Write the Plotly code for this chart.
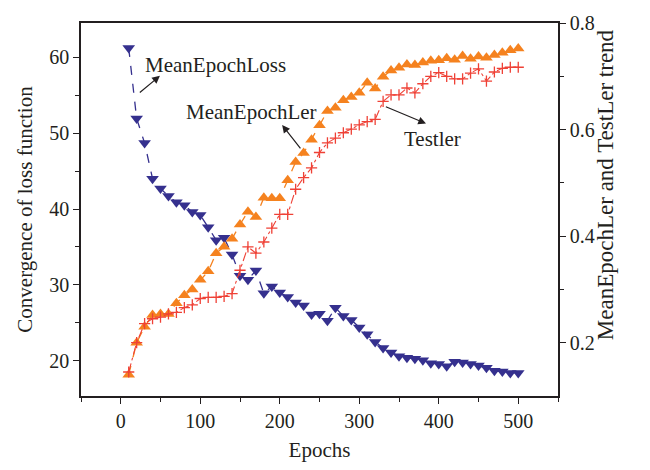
import plotly.graph_objects as go

epochs = list(range(10, 510, 10))

mean_epoch_loss = [61.2, 51.9, 48.7, 44.0, 42.7, 41.7, 40.9, 40.5, 39.6, 39.2,
                   37.6, 35.9, 36.2, 34.0, 31.2, 30.7, 31.9, 28.9, 29.8, 29.0,
                   28.4, 27.7, 27.3, 26.1, 26.2, 25.3, 27.0, 25.9, 25.4, 24.4,
                   23.5, 22.5, 21.7, 21.1, 20.6, 20.4, 20.3, 20.1, 19.7, 19.6,
                   19.3, 19.9, 19.8, 19.6, 19.4, 19.1, 18.7, 18.6, 18.4, 18.4]

mean_epoch_ler = [0.140, 0.200, 0.230, 0.252, 0.254, 0.254, 0.274, 0.289, 0.300, 0.318,
                  0.334, 0.368, 0.380, 0.395, 0.422, 0.446, 0.436, 0.472, 0.471, 0.471,
                  0.505, 0.539, 0.556, 0.581, 0.608, 0.635, 0.641, 0.655, 0.661, 0.669,
                  0.688, 0.677, 0.699, 0.711, 0.716, 0.722, 0.721, 0.726, 0.729, 0.730,
                  0.734, 0.731, 0.738, 0.733, 0.737, 0.735, 0.740, 0.744, 0.749, 0.752]

test_ler = [0.145, 0.200, 0.236, 0.245, 0.248, 0.254, 0.257, 0.266, 0.271, 0.283,
            0.285, 0.285, 0.287, 0.292, 0.336, 0.380, 0.368, 0.389, 0.415, 0.441,
            0.441, 0.488, 0.510, 0.528, 0.557, 0.575, 0.584, 0.594, 0.601, 0.609,
            0.615, 0.619, 0.653, 0.665, 0.665, 0.678, 0.669, 0.686, 0.700, 0.707,
            0.700, 0.695, 0.695, 0.706, 0.714, 0.691, 0.708, 0.715, 0.717, 0.717]

x_ticks = [0, 100, 200, 300, 400, 500]
y_ticks = [20, 30, 40, 50, 60]
y2_ticks = [0.2, 0.4, 0.6, 0.8]

BLUE = "#35308e"
ORANGE = "#f5821f"
RED = "#ef4136"
INK = "#231f20"
FONT = "Liberation Serif"

fig = go.Figure()
fig.add_trace(go.Scatter(
    x=epochs, y=mean_epoch_loss, mode="lines+markers", name="MeanEpochLoss",
    line=dict(color=BLUE, width=1.3, dash="dash"),
    marker=dict(symbol="triangle-down", size=11, color=BLUE),
    yaxis="y"))
fig.add_trace(go.Scatter(
    x=epochs, y=mean_epoch_ler, mode="lines+markers", name="MeanEpochLer",
    line=dict(color=ORANGE, width=1.3, dash="dash"),
    marker=dict(symbol="triangle-up", size=11, color=ORANGE),
    yaxis="y2"))
fig.add_trace(go.Scatter(
    x=epochs, y=test_ler, mode="lines+markers", name="Testler",
    line=dict(color=RED, width=1.1, dash="dashdot"),
    marker=dict(symbol="cross-thin", size=8, color=RED,
                line=dict(color=RED, width=1.3)),
    yaxis="y2"))

axis_common = dict(showline=True, linecolor=INK, linewidth=1.5, ticks="outside",
                   tickcolor=INK, ticklen=6, tickwidth=1.2, showgrid=False,
                   zeroline=False, tickfont=dict(family=FONT, size=20, color=INK))

fig.update_layout(
    width=650, height=470,
    margin=dict(l=81, r=92, t=14, b=73),
    plot_bgcolor="white", paper_bgcolor="white",
    showlegend=False,
    font=dict(family=FONT, size=20, color=INK),
    xaxis=dict(range=[-50, 550], tickvals=x_ticks, mirror=True,
               minor=dict(ticks="outside", tickvals=[-50, 50, 150, 250, 350, 450, 550],
                          ticklen=4, tickcolor=INK),
               title=dict(text="Epochs", font=dict(family=FONT, size=21, color=INK), standoff=12),
               **axis_common),
    yaxis=dict(range=[15.38, 64.49], tickvals=y_ticks,
               minor=dict(ticks="outside", tickvals=[25, 35, 45, 55], ticklen=4, tickcolor=INK),
               title=dict(text="Convergence of loss function",
                          font=dict(family=FONT, size=21, color=INK), standoff=11),
               **axis_common),
    yaxis2=dict(range=[0.1, 0.8], tickvals=y2_ticks, overlaying="y", side="right",
                tickformat=".1f",
                minor=dict(ticks="outside", tickvals=[0.3, 0.5, 0.7], ticklen=4, tickcolor=INK),
                **axis_common),
)

# Right axis title (placed as rotated text)
fig.add_annotation(x=(620 - 81) / 477, y=(397 - 180) / 383, xref="paper", yref="paper",
                   text="MeanEpochLer and TestLer trend", textangle=-90,
                   showarrow=False, font=dict(family=FONT, size=23, color=INK))

# Annotation texts
ann_font = dict(family=FONT, size=21, color=INK)
fig.add_annotation(x=119.6, y=58.97, xref="x", yref="y", text="MeanEpochLoss",
                   showarrow=False, font=ann_font)
fig.add_annotation(x=164.8, y=52.8, xref="x", yref="y", text="MeanEpochLer",
                   showarrow=False, font=ann_font)
fig.add_annotation(x=391.8, y=49.23, xref="x", yref="y", text="Testler",
                   showarrow=False, font=ann_font)

# Arrows
arrows = [((49.3, 57.53), (22.1, 55.17)),
          ((203.0, 51.07), (227.5, 47.8)),
          ((384.0, 51.25), (331.6, 53.55))]
for (hx, hy), (tx, ty) in arrows:
    fig.add_annotation(x=hx, y=hy, ax=tx, ay=ty, xref="x", yref="y",
                       axref="x", ayref="y", text="", showarrow=True,
                       arrowhead=2, arrowsize=1.3, arrowwidth=1.2, arrowcolor=INK)

fig.write_html("out.html")
